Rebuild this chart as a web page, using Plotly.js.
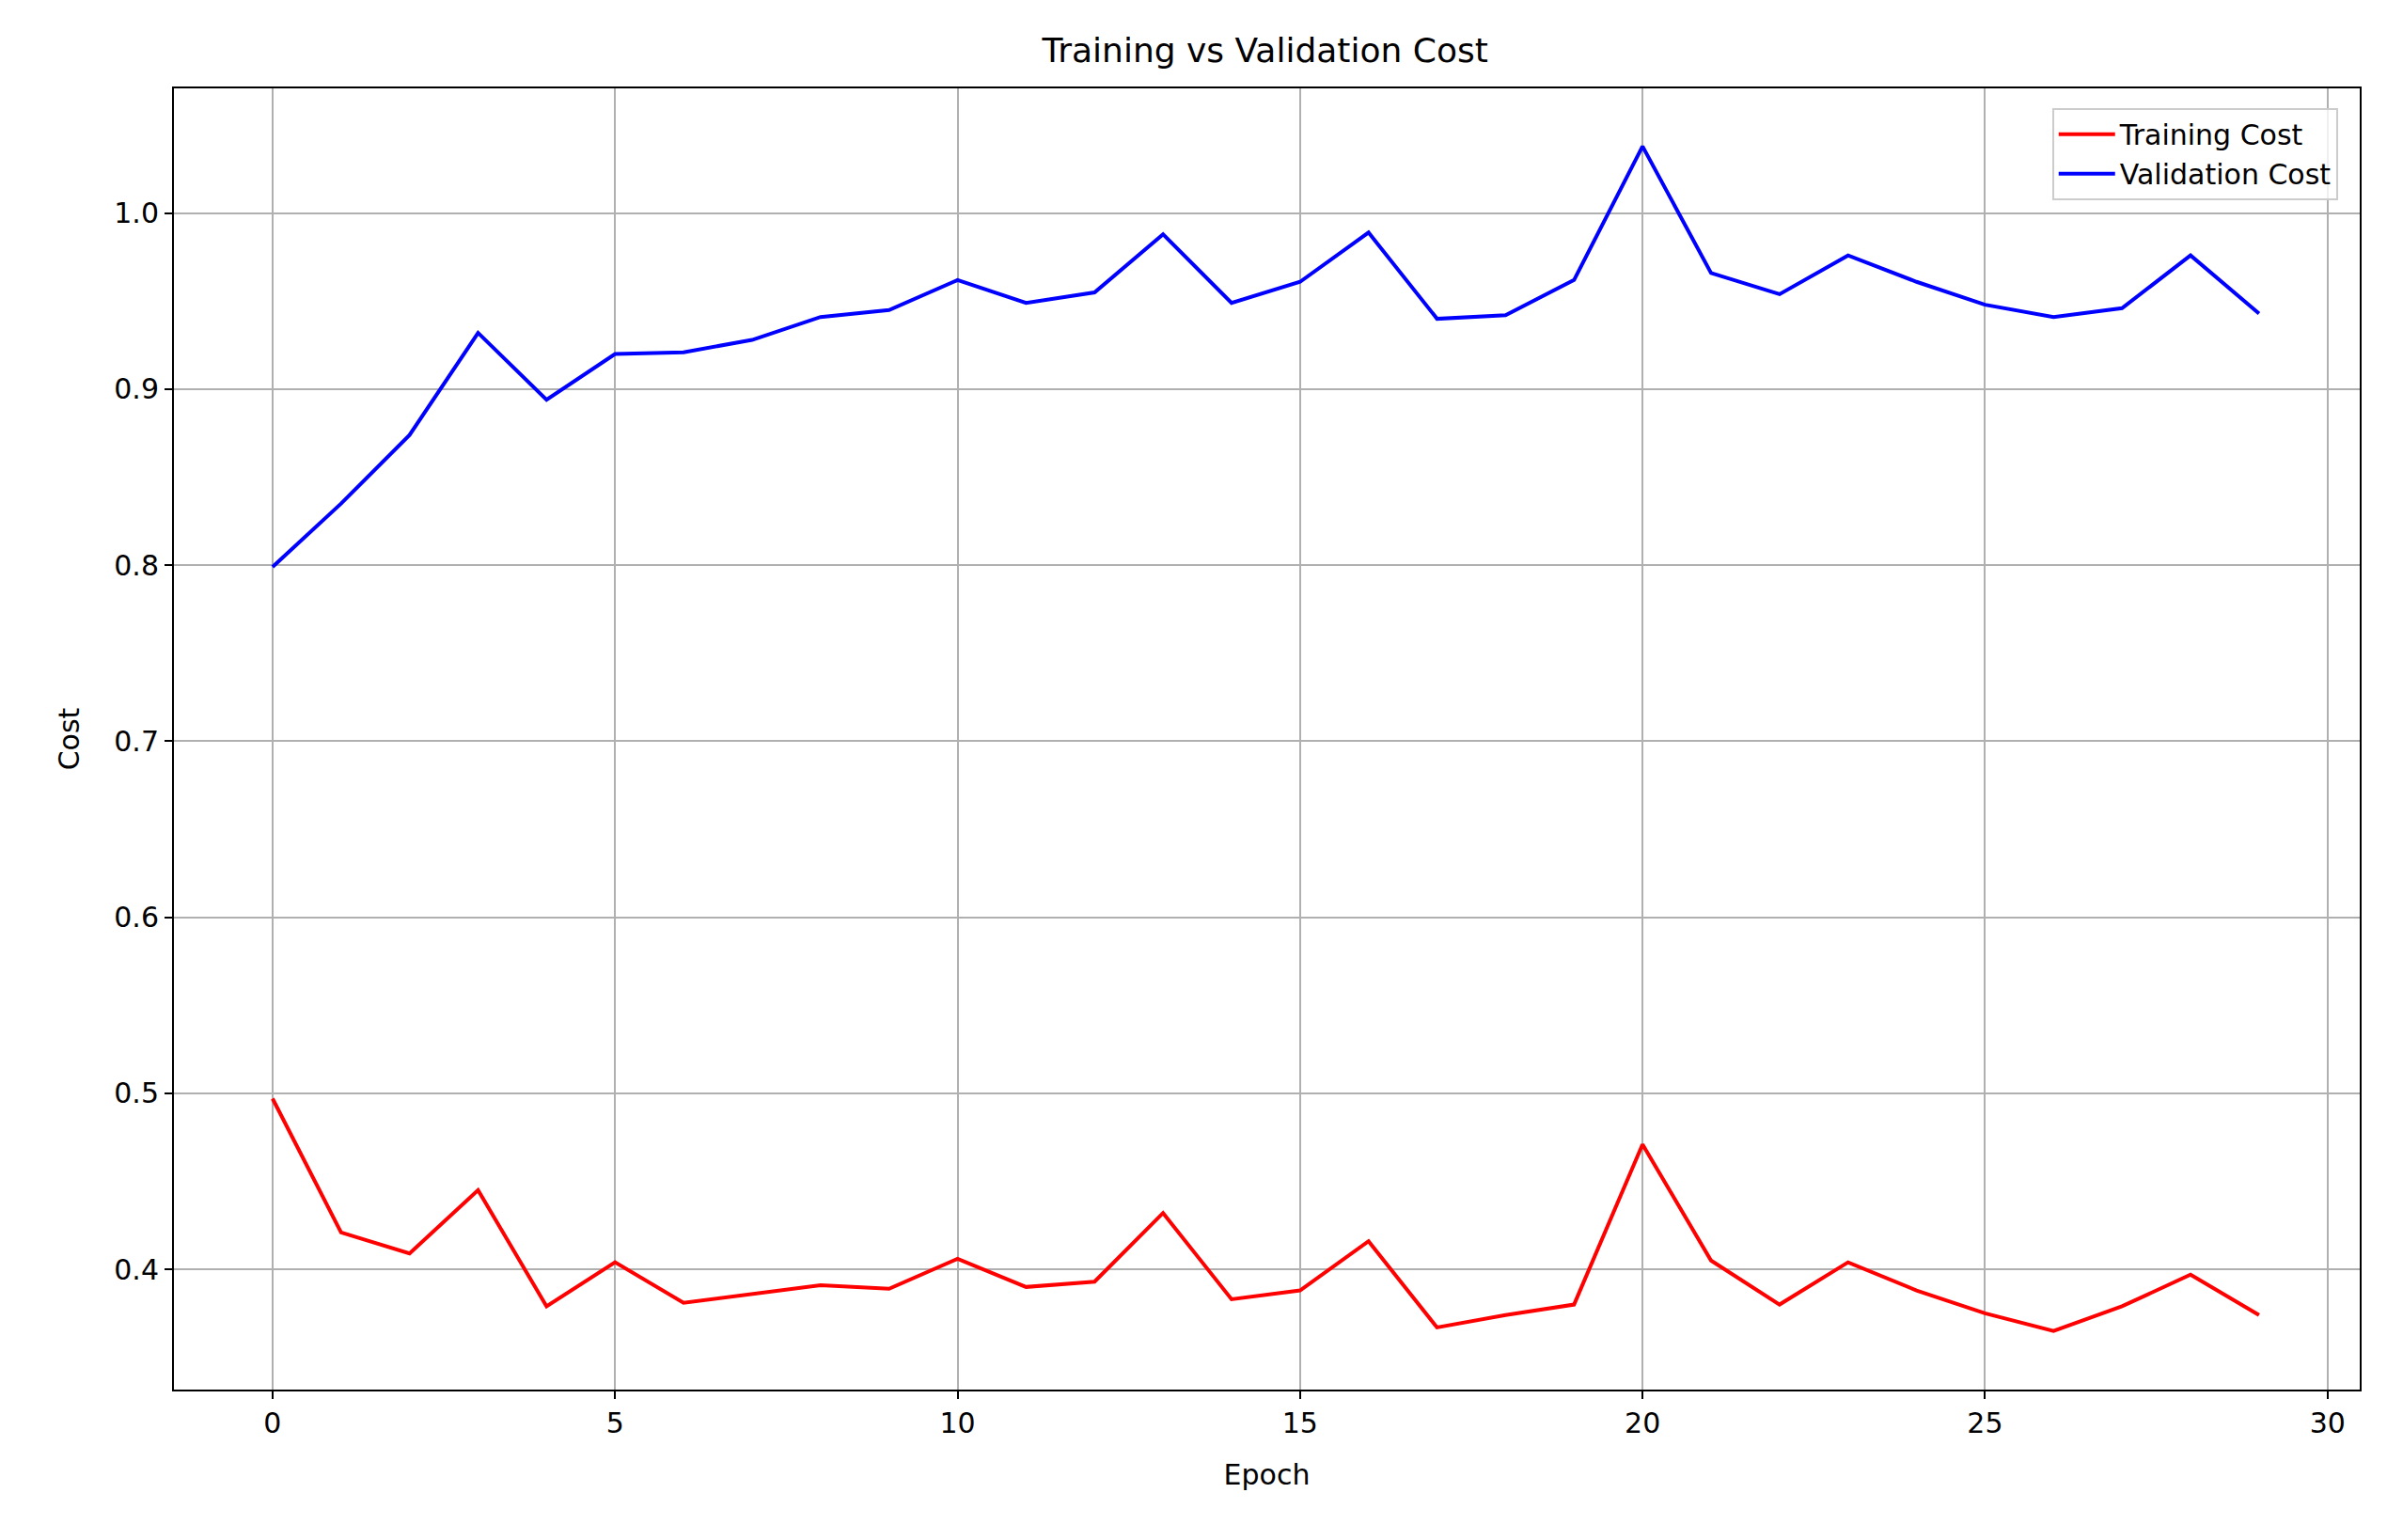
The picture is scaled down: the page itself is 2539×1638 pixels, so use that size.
<!DOCTYPE html>
<html>
<head>
<meta charset="utf-8">
<script src="https://cdn.plot.ly/plotly-3.0.1.min.js"></script>
<style>html,body{margin:0;padding:0;background:#fff}#chart{width:2539px;height:1638px}</style>
</head>
<body>
<div id="chart"></div>
<script>
// epoch numbers and per-epoch costs
const epochs = Array.from({length: 30}, (_, i) => i);
const trainingCost = [0.497, 0.421, 0.409, 0.445, 0.379, 0.404, 0.381, 0.386, 0.391, 0.389,
    0.406, 0.390, 0.393, 0.432, 0.383, 0.388, 0.416, 0.367, 0.374, 0.380,
    0.471, 0.405, 0.380, 0.404, 0.388, 0.375, 0.365, 0.379, 0.397, 0.374];
const validationCost = [0.799, 0.835, 0.874, 0.932, 0.894, 0.920, 0.921, 0.928, 0.941, 0.945,
    0.962, 0.949, 0.955, 0.988, 0.949, 0.961, 0.989, 0.940, 0.942, 0.962,
    1.038, 0.966, 0.954, 0.976, 0.961, 0.948, 0.941, 0.946, 0.976, 0.943];

const data = [
    {x: epochs, y: trainingCost, mode: 'lines', name: 'Training Cost', line: {color: '#ff0000', width: 4}},
    {x: epochs, y: validationCost, mode: 'lines', name: 'Validation Cost', line: {color: '#0000ff', width: 4}}
];

const axisStyle = {
    showgrid: true, gridcolor: '#b0b0b0', gridwidth: 2,
    showline: true, linecolor: '#000', linewidth: 2, mirror: true,
    ticks: 'outside', ticklen: 8, tickwidth: 2, tickcolor: '#000',
    zeroline: false, tickfont: {size: 30, color: '#000'}
};

const layout = {
    font: {family: 'DejaVu Sans', color: '#000'},
    paper_bgcolor: '#fff', plot_bgcolor: '#fff',
    margin: {l: 185, r: 29, t: 94, b: 160},
    title: {text: 'Training vs Validation Cost', font: {size: 36}, x: 0.53, xanchor: 'center', y: 0.975},
    xaxis: Object.assign({}, axisStyle, {
        range: [-1.44, 30.47], tickvals: [0, 5, 10, 15, 20, 25, 30],
        title: {text: 'Epoch', font: {size: 30}, standoff: 28}
    }),
    yaxis: Object.assign({}, axisStyle, {
        range: [0.3317, 1.0709], tickvals: [0.4, 0.5, 0.6, 0.7, 0.8, 0.9, 1.0], tickformat: '.1f',
        title: {text: 'Cost', font: {size: 30}, standoff: 28}
    }),
    legend: {
        x: 0.99, y: 0.985, xanchor: 'right', yanchor: 'top',
        bgcolor: 'rgba(255,255,255,0.8)', bordercolor: '#ccc', borderwidth: 2,
        font: {size: 30}, itemwidth: 60, tracegroupgap: 10
    },
    showlegend: true
};

Plotly.newPlot('chart', data, layout, {displayModeBar: false});
</script>
</body>
</html>
